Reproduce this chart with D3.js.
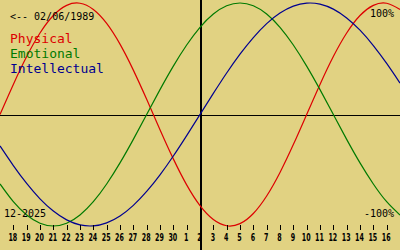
<!DOCTYPE html>
<html lang="en">
<head>
    <meta charset="UTF-8">
    <title>Biorhythm</title>
    <script src="https://d3js.org/d3.v7.min.js"></script>
    <style>
        body {
            margin: 0;
            background-color: #e1d282;
        }
        svg {
            display: block;
        }
        .mono {
            font-family: "DejaVu Sans Mono", "Liberation Mono", monospace;
        }
        .tick-label {
            font-family: "DejaVu Sans", sans-serif;
            font-weight: bold;
            font-size: 10px;
        }
    </style>
</head>
<body>
<svg width="400" height="250"></svg>

<script>
    const width = 400;
    const height = 250;

    // day offsets from today (02 Dec 2025), one point per day
    const days = [-15, -14, -13, -12, -11, -10, -9, -8, -7, -6, -5, -4, -3, -2, -1, 0,
                  1, 2, 3, 4, 5, 6, 7, 8, 9, 10, 11, 12, 13, 14, 15];
    // tick labels for offsets -14 .. 14
    const dayLabels = ["18", "19", "20", "21", "22", "23", "24", "25", "26", "27", "28", "29", "30",
                       "1", "2", "3", "4", "5", "6", "7", "8", "9", "10", "11", "12", "13", "14", "15", "16"];

    const physical = [0, 0.27, 0.52, 0.731, 0.888, 0.979, 0.998, 0.942, 0.817, 0.631, 0.398, 0.136,
                      -0.136, -0.398, -0.631, -0.817, -0.942, -0.998, -0.979, -0.888, -0.731, -0.52, -0.27,
                      0, 0.27, 0.52, 0.731, 0.888, 0.979, 0.998, 0.942];
    const emotional = [-0.623, -0.782, -0.901, -0.975, -1, -0.975, -0.901, -0.782, -0.623, -0.434, -0.223,
                       0, 0.223, 0.434, 0.623, 0.782, 0.901, 0.975, 1, 0.975, 0.901, 0.782, 0.623, 0.434,
                       0.223, 0, -0.223, -0.434, -0.623, -0.782, -0.901];
    const intellectual = [-0.282, -0.458, -0.618, -0.756, -0.866, -0.945, -0.99, -0.999, -0.972, -0.91,
                          -0.815, -0.69, -0.541, -0.372, -0.189, 0, 0.189, 0.372, 0.541, 0.69, 0.815,
                          0.91, 0.972, 0.999, 0.99, 0.945, 0.866, 0.756, 0.618, 0.458, 0.282];

    const seriesNames = ["Physical", "Emotional", "Intellectual"];
    const seriesColors = ["#dd0000", "#007a00", "#000090"];
    const seriesData = [physical, emotional, intellectual];

    const svg = d3.select("svg")
        .attr("width", width)
        .attr("height", height);

    const xScale = d3.scaleLinear().domain([-15, 15]).range([0, width]);
    const yScale = d3.scaleLinear().domain([-1, 1]).range([226, 3]);

    // zero line and today line
    svg.append("line")
        .attr("x1", 0).attr("x2", width)
        .attr("y1", Math.round(yScale(0)) + 0.5).attr("y2", Math.round(yScale(0)) + 0.5)
        .attr("stroke", "#000").attr("stroke-width", 1);
    svg.append("line")
        .attr("x1", xScale(0) + 1).attr("x2", xScale(0) + 1)
        .attr("y1", 0).attr("y2", height)
        .attr("stroke", "#000").attr("stroke-width", 2);

    // curves
    const line = d3.line()
        .x((d, i) => xScale(days[i]))
        .y(d => yScale(d))
        .curve(d3.curveNatural);

    seriesData.forEach((s, k) => {
        svg.append("path")
            .datum(s)
            .attr("d", line)
            .attr("fill", "none")
            .attr("stroke", seriesColors[k])
            .attr("stroke-width", 1.2);
    });

    // day ticks
    const tickDays = days.slice(1, days.length - 1);
    const axis = svg.append("g");
    axis.selectAll("line")
        .data(tickDays)
        .enter()
        .append("line")
        .attr("x1", d => Math.round(xScale(d)) + 0.5)
        .attr("x2", d => Math.round(xScale(d)) + 0.5)
        .attr("y1", 225).attr("y2", 230)
        .attr("stroke", "#000").attr("stroke-width", 1);
    axis.selectAll("text")
        .data(tickDays)
        .enter()
        .append("text")
        .attr("class", "tick-label")
        .attr("x", d => xScale(d) - 0.5)
        .attr("y", 241)
        .attr("text-anchor", "middle")
        .attr("fill", "#000")
        .attr("textLength", (d, i) => dayLabels[i].length * 4.4)
        .attr("lengthAdjust", "spacingAndGlyphs")
        .text((d, i) => dayLabels[i]);

    // labels
    svg.append("text").attr("class", "mono")
        .attr("x", 10).attr("y", 20).attr("font-size", 10)
        .text("<-- 02/06/1989");
    svg.append("text").attr("class", "mono")
        .attr("x", 4).attr("y", 217).attr("font-size", 10)
        .text("12-2025");
    svg.append("text").attr("class", "mono")
        .attr("x", 394).attr("y", 17).attr("font-size", 10)
        .attr("text-anchor", "end")
        .text("100%");
    svg.append("text").attr("class", "mono")
        .attr("x", 394).attr("y", 217).attr("font-size", 10)
        .attr("text-anchor", "end")
        .text("-100%");

    // legend
    svg.selectAll(".legend")
        .data(seriesNames)
        .enter()
        .append("text")
        .attr("class", "legend mono")
        .attr("x", 10)
        .attr("y", (d, i) => 43 + i * 14.75)
        .attr("font-size", 13)
        .attr("fill", (d, i) => seriesColors[i])
        .text(d => d);
</script>
</body>
</html>
